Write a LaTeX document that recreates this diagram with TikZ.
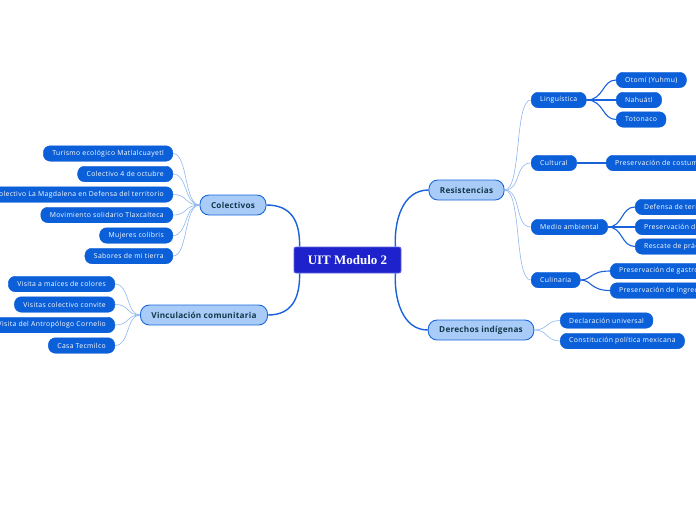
\documentclass[tikz,border=0pt]{standalone}
\usepackage{fontspec}
\setmainfont{Open Sans}
\newfontfamily\leaffont[LetterSpace=5]{Open Sans}
\newfontfamily\mainfont[LetterSpace=3]{Open Sans}
\newfontfamily\serifb{Liberation Serif}
\definecolor{leaf}{HTML}{0B5FD8}
\definecolor{leafline}{HTML}{90B8EE}
\definecolor{mainfill}{HTML}{A8CBF7}
\definecolor{mainborder}{HTML}{1A66DD}
\definecolor{maintext}{HTML}{12384A}
\definecolor{central}{HTML}{1E22CC}
\definecolor{thick}{HTML}{1A62DC}
\tikzset{
  leafbox/.style={fill=leaf, draw=leaf, rounded corners=7pt, text=white,
    font=\leaffont\fontsize{6.85}{8}\selectfont, minimum height=15.5pt, inner xsep=9pt, inner ysep=0pt},
  mainbox/.style={fill=mainfill, draw=mainborder, line width=0.9pt, rounded corners=9pt,
    text=maintext, font=\mainfont\bfseries\fontsize{8.2}{9}\selectfont, minimum height=20pt, inner xsep=11pt, inner ysep=0pt},
  centralbox/.style={fill=central, draw=central!70!white, line width=0.8pt, rounded corners=2pt,
    text=white, font=\serifb\bfseries\fontsize{13}{15}\selectfont, minimum height=26pt, minimum width=107pt, inner ysep=0pt},
  thickline/.style={draw=thick, line width=1.4pt},
  thinline/.style={draw=leafline, line width=0.6pt},
  midline/.style={draw=thick, line width=1.1pt}
}
\begin{document}
\begin{tikzpicture}[x=1pt,y=-1pt]
\useasboundingbox (0,0) rectangle (696,520);
\fill[white] (0,0) rectangle (696,520);
\clip (0,0) rectangle (696,520);

% central
\node[centralbox] (cen) at (347.5,260) {UIT Modulo 2};

% main branches
\node[mainbox] (col) at (233,205) {Colectivos};
\node[mainbox] (vin) at (204,315) {Vinculación comunitaria};
\node[mainbox] (res) at (466.5,190) {Resistencias};
\node[mainbox] (der) at (481,330) {Derechos indígenas};

% Colectivos leaves
\node[leafbox, anchor=east] (c1) at (173,153.5) {Turismo ecológico Matlalcuayetl};
\node[leafbox, anchor=east] (c2) at (173,174) {Colectivo 4 de octubre};
\node[leafbox, anchor=east] (c3) at (173,194.5) {Colectivo La Magdalena en Defensa del territorio};
\node[leafbox, anchor=east] (c4) at (173,215) {Movimiento solidario Tlaxcalteca};
\node[leafbox, anchor=east] (c5) at (173,235.5) {Mujeres colibris};
\node[leafbox, anchor=east] (c6) at (173,256) {Sabores de mi tierra};

% Vinculacion leaves
\node[leafbox, anchor=east] (v1) at (115,284) {Visita a maíces de colores};
\node[leafbox, anchor=east] (v2) at (115,304.5) {Visitas colectivo convite};
\node[leafbox, anchor=east] (v3) at (115,325) {Visita del Antropólogo Cornelio};
\node[leafbox, anchor=east] (v4) at (115,345.5) {Casa Tecmilco};

% Resistencias children
\node[leafbox, anchor=west] (r1) at (531,100) {Linguística};
\node[leafbox, anchor=west] (r2) at (531,163) {Cultural};
\node[leafbox, anchor=west] (r3) at (531,227) {Medio ambiental};
\node[leafbox, anchor=west] (r4) at (531,280) {Culinaria};

\node[leafbox, anchor=west] (l1) at (616,80) {Otomí (Yuhmu)};
\node[leafbox, anchor=west] (l2) at (616,100) {Nahuátl};
\node[leafbox, anchor=west] (l3) at (616,119.5) {Totonaco};

\node[leafbox, anchor=west] (k1) at (606,163) {Preservación de costumbres};

\node[leafbox, anchor=west] (m1) at (635,207) {Defensa de territorio};
\node[leafbox, anchor=west] (m2) at (635,227) {Preservación de semillas};
\node[leafbox, anchor=west] (m3) at (635,246.5) {Rescate de prácticas};

\node[leafbox, anchor=west] (g1) at (610,271) {Preservación de gastronomía};
\node[leafbox, anchor=west] (g2) at (610,290.5) {Preservación de ingredientes};

% Derechos children
\node[leafbox, anchor=west] (d1) at (560,320.5) {Declaración universal};
\node[leafbox, anchor=west] (d2) at (560,341) {Constitución política mexicana};

% central connectors
\draw[thickline] (col.east) .. controls (292,205) and (300,222) .. ([xshift=6pt]cen.north west);
\draw[thickline] (vin.east) .. controls (292,315) and (300,298) .. ([xshift=6pt]cen.south west);
\draw[thickline] (res.west) .. controls (402,190) and (394,222) .. ([xshift=-6pt]cen.north east);
\draw[thickline] (der.west) .. controls (402,330) and (394,298) .. ([xshift=-6pt]cen.south east);

% Colectivos leaf connectors
\foreach \n in {c1,c2,c3,c4,c5,c6}{
  \draw[thinline] (col.west) .. controls (184,205) and ([xshift=15pt]\n.east) .. (\n.east);
}
% Vinculacion leaf connectors
\foreach \n in {v1,v2,v3,v4}{
  \draw[thinline] (vin.west) .. controls (126,315) and ([xshift=15pt]\n.east) .. (\n.east);
}
% Resistencias connectors
\foreach \n in {r1,r2,r3,r4}{
  \draw[thinline] (res.east) .. controls (522,190) and ([xshift=-17pt]\n.west) .. (\n.west);
}
% Derechos connectors
\foreach \n in {d1,d2}{
  \draw[thinline] (der.east) .. controls (548,330) and ([xshift=-14pt]\n.west) .. (\n.west);
}
% deeper connectors
\foreach \n in {l1,l2,l3}{
  \draw[midline] (r1.east) .. controls (604,100) and ([xshift=-14pt]\n.west) .. (\n.west);
}
\draw[midline] (r2.east) -- (k1.west);
\foreach \n in {m1,m2,m3}{
  \draw[midline] (r3.east) .. controls (623,227) and ([xshift=-14pt]\n.west) .. (\n.west);
}
\foreach \n in {g1,g2}{
  \draw[midline] (r4.east) .. controls (592,280) and ([xshift=-20pt]\n.west) .. (\n.west);
}
\end{tikzpicture}
\end{document}
